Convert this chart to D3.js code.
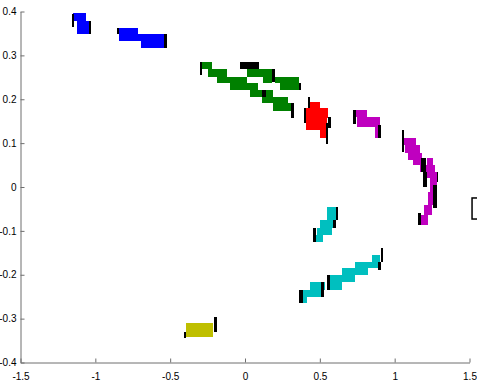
<!DOCTYPE html>
<html>
<head>
<meta charset="utf-8">
<script src="https://cdn.jsdelivr.net/npm/d3@7"></script>
<style>
  html, body { margin: 0; padding: 0; background: #fff; }
  svg { display: block; }
  .tick text { font-family: "Liberation Sans", Arial, Helvetica, sans-serif; font-size: 10px; fill: #000; }
</style>
</head>
<body>
<svg id="chart" width="477" height="381"></svg>
<script>
// ---- Data (data units): each cell = [xMin, xMax, yMin, yMax] ----
const xTickValues = [-1.5, -1, -0.5, 0, 0.5, 1, 1.5];
const xTickLabels = ["-1.5", "-1", "-0.5", "0", "0.5", "1", "1.5"];
const yTickValues = [0.4, 0.3, 0.2, 0.1, 0, -0.1, -0.2, -0.3, -0.4];
const yTickLabels = ["0.4", "0.3", "0.2", "0.1", "0", "-0.1", "-0.2", "-0.3", "-0.4"];

const blueCells = [
  [-1.147, -1.062, 0.379, 0.396],
  [-1.125, -1.036, 0.348, 0.379],
  [-0.849, -0.715, 0.349, 0.362],
  [-0.842, -0.688, 0.333, 0.349],
  [-0.695, -0.528, 0.317, 0.349]
];
const blueEdges = [
  [-1.156, -1.143, 0.364, 0.394],
  [-1.042, -1.029, 0.348, 0.379],
  [-0.855, -0.842, 0.349, 0.362],
  [-0.541, -0.521, 0.317, 0.349]
];

const greenCells = [
  [-0.285, -0.219, 0.269, 0.286],
  [-0.245, -0.122, 0.251, 0.269],
  [0.011, 0.196, 0.251, 0.269],
  [-0.189, 0.011, 0.236, 0.251],
  [0.122, 0.178, 0.236, 0.251],
  [0.200, 0.361, 0.236, 0.251],
  [-0.100, 0.089, 0.221, 0.236],
  [0.234, 0.361, 0.221, 0.236],
  [0.033, 0.112, 0.206, 0.221],
  [0.138, 0.189, 0.206, 0.221],
  [0.112, 0.289, 0.191, 0.206],
  [0.189, 0.316, 0.174, 0.191]
];
const greenEdges = [
  [-0.299, -0.285, 0.255, 0.286],
  [-0.033, 0.096, 0.269, 0.286],
  [0.178, 0.200, 0.239, 0.269],
  [0.361, 0.374, 0.221, 0.236],
  [0.112, 0.138, 0.206, 0.221],
  [0.305, 0.327, 0.158, 0.191]
];

const redCells = [
  [0.421, 0.501, 0.179, 0.193],
  [0.401, 0.557, 0.157, 0.179],
  [0.406, 0.546, 0.130, 0.157],
  [0.501, 0.539, 0.111, 0.130]
];
const redEdges = [
  [0.419, 0.436, 0.179, 0.206],
  [0.394, 0.408, 0.145, 0.179],
  [0.557, 0.575, 0.134, 0.160],
  [0.539, 0.557, 0.097, 0.145]
];

const magentaCells = [
  [0.735, 0.813, 0.160, 0.175],
  [0.746, 0.902, 0.137, 0.160],
  [0.869, 0.902, 0.111, 0.137],
  [1.064, 1.141, 0.096, 0.111],
  [1.069, 1.169, 0.077, 0.096],
  [1.091, 1.181, 0.062, 0.077],
  [1.125, 1.191, 0.050, 0.066],
  [1.214, 1.258, 0.050, 0.065],
  [1.169, 1.270, 0.035, 0.050],
  [1.203, 1.281, 0.020, 0.035],
  [1.236, 1.281, -0.011, 0.020],
  [1.225, 1.270, -0.041, -0.011],
  [1.198, 1.252, -0.064, -0.041],
  [1.176, 1.225, -0.087, -0.064]
];
const magentaEdges = [
  [0.720, 0.740, 0.143, 0.175],
  [0.889, 0.907, 0.111, 0.141],
  [1.047, 1.062, 0.080, 0.130],
  [1.176, 1.207, 0.035, 0.065],
  [1.191, 1.214, 0.001, 0.035],
  [1.281, 1.292, 0.012, 0.035],
  [1.258, 1.281, -0.049, 0.005],
  [1.154, 1.176, -0.087, -0.059]
];

const cyanCells = [
  [0.546, 0.608, -0.075, -0.045],
  [0.501, 0.590, -0.094, -0.075],
  [0.479, 0.579, -0.109, -0.094],
  [0.468, 0.519, -0.125, -0.109],
  [0.847, 0.902, -0.170, -0.155],
  [0.735, 0.897, -0.185, -0.170],
  [0.646, 0.824, -0.201, -0.185],
  [0.568, 0.735, -0.216, -0.201],
  [0.546, 0.646, -0.235, -0.216],
  [0.434, 0.535, -0.235, -0.216],
  [0.379, 0.513, -0.250, -0.235],
  [0.379, 0.412, -0.265, -0.250]
];
const cyanEdges = [
  [0.608, 0.623, -0.075, -0.045],
  [0.590, 0.606, -0.094, -0.075],
  [0.452, 0.474, -0.125, -0.094],
  [0.907, 0.924, -0.170, -0.140],
  [0.891, 0.907, -0.189, -0.170],
  [0.546, 0.568, -0.235, -0.201],
  [0.506, 0.528, -0.250, -0.216],
  [0.363, 0.386, -0.265, -0.235]
];

const yellowCells = [
  [-0.394, -0.214, -0.342, -0.310]
];
const yellowEdges = [
  [-0.205, -0.189, -0.330, -0.296],
  [-0.408, -0.394, -0.345, -0.330]
];

// partially visible outlined box beyond the right edge
const outsideBox = [[1.517, 1.62, -0.073, -0.025]];

const groups = [
  { cells: blueCells, edges: blueEdges, color: "#0000ff" },
  { cells: greenCells, edges: greenEdges, color: "#008000" },
  { cells: redCells, edges: redEdges, color: "#ff0000" },
  { cells: magentaCells, edges: magentaEdges, color: "#bf00bf" },
  { cells: cyanCells, edges: cyanEdges, color: "#00bfbf" },
  { cells: yellowCells, edges: yellowEdges, color: "#bfbf00" }
];

// ---- Chart ----
const svg = d3.select("#chart");
const x = d3.scaleLinear().domain([-1.5, 1.5]).range([20.5, 469.5]);
const y = d3.scaleLinear().domain([-0.4, 0.4]).range([362.5, 11.5]);

const plot = svg.append("g");

groups.forEach(g => {
  plot.append("g").selectAll("rect").data(g.cells).join("rect")
    .attr("x", d => x(d[0]))
    .attr("y", d => y(d[3]))
    .attr("width", d => x(d[1]) - x(d[0]))
    .attr("height", d => y(d[2]) - y(d[3]))
    .attr("fill", g.color)
    .attr("shape-rendering", "crispEdges");
});
groups.forEach(g => {
  plot.append("g").selectAll("rect").data(g.edges).join("rect")
    .attr("x", d => x(d[0]))
    .attr("y", d => y(d[3]))
    .attr("width", d => x(d[1]) - x(d[0]))
    .attr("height", d => y(d[2]) - y(d[3]))
    .attr("fill", "#000")
    .attr("shape-rendering", "crispEdges");
});

plot.append("g").selectAll("rect").data(outsideBox).join("rect")
  .attr("x", d => x(d[0]))
  .attr("y", d => y(d[3]))
  .attr("width", d => x(d[1]) - x(d[0]))
  .attr("height", d => y(d[2]) - y(d[3]))
  .attr("fill", "#fff")
  .attr("stroke", "#000")
  .attr("stroke-width", 1.5);

const axisColor = "#6e6e6e";

const xAxis = d3.axisBottom(x)
  .tickValues(xTickValues)
  .tickFormat((d, i) => xTickLabels[i])
  .tickSizeInner(-4).tickSizeOuter(0).tickPadding(10);
const gx = svg.append("g").attr("transform", `translate(0,${y(-0.4)})`).call(xAxis);

const yAxis = d3.axisLeft(y)
  .tickValues(yTickValues)
  .tickFormat((d, i) => yTickLabels[i])
  .tickSizeInner(-4).tickSizeOuter(0).tickPadding(4);
const gy = svg.append("g").attr("transform", `translate(${x(-1.5)},0)`).call(yAxis);

[gx, gy].forEach(g => {
  g.select(".domain").attr("stroke", axisColor);
  g.selectAll(".tick line").attr("stroke", axisColor);
  g.selectAll(".tick text").attr("fill", "#000");
});
</script>
</body>
</html>
